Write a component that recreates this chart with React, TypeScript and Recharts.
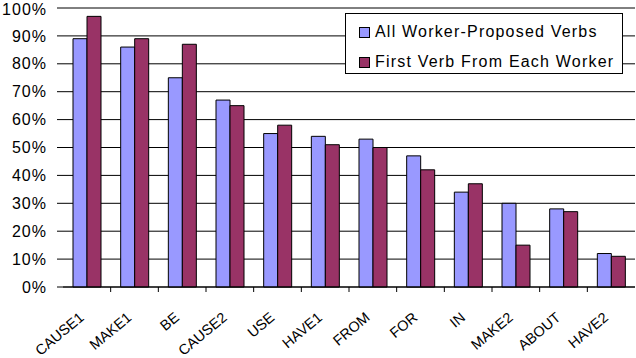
import { BarChart, Bar, XAxis, YAxis, CartesianGrid, Legend } from "recharts"

const verbs = ["CAUSE1", "MAKE1", "BE", "CAUSE2", "USE", "HAVE1", "FROM", "FOR", "IN", "MAKE2", "ABOUT", "HAVE2"]
const allVerbs = [89, 86, 75, 67, 55, 54, 53, 47, 34, 30, 28, 12]
const firstVerb = [97, 89, 87, 65, 58, 51, 50, 42, 37, 15, 27, 11]
const yTicks = [0, 10, 20, 30, 40, 50, 60, 70, 80, 90, 100]

const data = verbs.map((verb, i) => ({ verb, all: allVerbs[i], first: firstVerb[i] }))

const FONT = "'Liberation Sans', Arial, sans-serif"

// category label, rotated, plus a small tick mark on the left edge of each band
function VerbTick(props: any) {
  const x = Number(props.x)
  const y = Number(props.y)
  const { payload } = props
  const idx = verbs.indexOf(payload.value)
  const half = Number(payload?.offset ?? 0)
  return (
    <g>
      {idx > 0 && <line x1={x - half} x2={x - half} y1={y} y2={y + 5} stroke="#000" />}
      <g transform={`translate(${x - 2}, ${y + 32})`}>
        <g transform="rotate(-40)">
          <text x={0} y={0} textAnchor="end" fontSize={14.5} fontFamily={FONT} fill="#000">
            {payload.value}
          </text>
        </g>
      </g>
    </g>
  )
}

function LegendBox(props: any) {
  const items = props.payload || []
  return (
    <div
      style={{
        border: "1px solid #000",
        background: "#fff",
        width: 278,
        height: 61,
        boxSizing: "border-box",
        paddingLeft: 13,
        paddingTop: 6,
        fontFamily: FONT,
        fontSize: 16,
        letterSpacing: 1.2,
        color: "#000",
      }}
    >
      {items.map((it: any) => (
        <div key={it.value} style={{ display: "flex", alignItems: "center", height: 24, marginBottom: 6 }}>
          <span
            style={{
              display: "inline-block",
              width: 9,
              height: 9,
              background: it.color,
              border: "1px solid #000",
              marginRight: 5,
            }}
          />
          <span>{it.value}</span>
        </div>
      ))}
    </div>
  )
}

export default function App() {
  return (
    <div style={{ position: "absolute", left: 0, top: 0, width: 636, height: 358, background: "#fff" }}>
      <BarChart
        width={636}
        height={358}
        data={data}
        margin={{ top: 8, right: 1, left: 0, bottom: 0 }}
        barCategoryGap="21%"
        barGap={0}
      >
        <CartesianGrid vertical={false} stroke="#000" />
        <XAxis
          dataKey="verb"
          height={71}
          interval={0}
          tickLine={false}
          tickSize={0}
          tickMargin={0}
          axisLine={{ stroke: "#000" }}
          tick={(p: any) => <VerbTick {...p} />}
        />
        <YAxis
          width={63}
          domain={[0, 100]}
          ticks={yTicks}
          tickFormatter={(v: number) => `${v}%`}
          axisLine={false}
          tickLine={{ stroke: "#000" }}
          tickSize={6}
          tickMargin={10}
          tick={{ fontSize: 16, fill: "#000", fontFamily: FONT, letterSpacing: 1 }}
        />
        <Legend
          layout="vertical"
          align="center"
          verticalAlign="middle"
          wrapperStyle={{ left: 345, top: 13, width: 279, height: 62 }}
          content={<LegendBox />}
        />
        <Bar dataKey="all" name="All Worker-Proposed Verbs" fill="#9999FF" stroke="#000" strokeWidth={1} isAnimationActive={false} />
        <Bar dataKey="first" name="First Verb From Each Worker" fill="#993366" stroke="#000" strokeWidth={1} isAnimationActive={false} />
      </BarChart>
    </div>
  )
}
